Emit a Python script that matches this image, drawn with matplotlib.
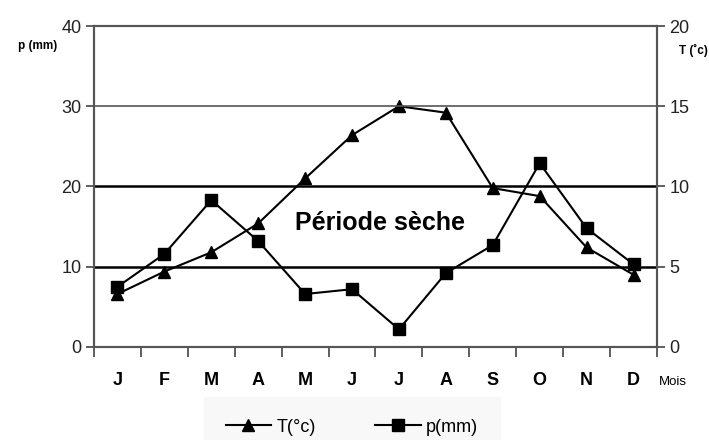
import matplotlib.pyplot as plt
from matplotlib.ticker import FixedLocator

plt.rcParams['font.family'] = ['Liberation Sans', 'DejaVu Sans']

mois = ['J', 'F', 'M', 'A', 'M', 'J', 'J', 'A', 'S', 'O', 'N', 'D']
precip = [7.5, 11.6, 18.3, 13.2, 6.6, 7.2, 2.2, 9.2, 12.7, 22.9, 14.8, 10.3]
temp = [3.3, 4.7, 5.9, 7.7, 10.5, 13.2, 15.0, 14.6, 9.9, 9.4, 6.2, 4.5]
p_ticks = [0, 10, 20, 30, 40]
t_ticks = [0, 5, 10, 15, 20]

x = list(range(1, 13))

fig = plt.figure(figsize=(7.09, 4.40), dpi=100)
ax = fig.add_axes([0.1326, 0.2114, 0.794, 0.7295])
ax2 = ax.twinx()

# lignes horizontales
ax.axhline(30, color='#555555', lw=1.2, zorder=1)
ax.axhline(20, color='black', lw=1.8, zorder=1)
ax.axhline(10, color='black', lw=1.8, zorder=1)

l1, = ax2.plot(x, temp, color='black', marker='^', markersize=8, lw=1.5, label='T(°c)')
l2, = ax.plot(x, precip, color='black', marker='s', markersize=8, lw=1.5, label='p(mm)')
ax.set_zorder(ax2.get_zorder() + 1)
ax.patch.set_visible(False)

ax.set_xlim(0.5, 12.5)
ax.set_ylim(0, 40)
ax2.set_ylim(0, 20)
tick_font = {'size': 13, 'color': '#222222'}
ax.set_yticks(p_ticks)
ax.set_yticklabels([str(v) for v in p_ticks], fontdict=tick_font)
ax2.set_yticks(t_ticks)
ax2.set_yticklabels([str(v) for v in t_ticks], fontdict=tick_font)

ax.xaxis.set_major_locator(FixedLocator([i + 0.5 for i in range(0, 13)]))
ax.xaxis.set_major_formatter(plt.NullFormatter())
ax.xaxis.set_minor_locator(FixedLocator(x))
ax.set_xticklabels(mois, minor=True, fontweight='bold', fontsize=13)
ax.tick_params(axis='x', which='major', direction='out', length=7, width=1.2, color='#444444')
ax.tick_params(axis='x', which='minor', length=0, pad=18)
ax.tick_params(axis='y', direction='out', length=6, width=1.2, color='#444444', pad=3)
ax2.tick_params(axis='y', direction='out', length=6, width=1.2, color='#444444', pad=3)

for a in (ax, ax2):
    for s in a.spines.values():
        s.set_color('#555555')
        s.set_linewidth(1.5)

fig.text(18 / 709, 1 - 46 / 440, 'p (mm)', fontsize=8.5, fontweight='bold', ha='left', va='center')
fig.text(708 / 709, 1 - 50 / 440, 'T (˚c)', fontsize=8.5, fontweight='bold', ha='right', va='center')
fig.text(673 / 709, 1 - 382 / 440, 'Mois', fontsize=9.5, ha='center', va='center')
ax.text(6.6, 15.4, 'Période sèche', fontsize=18, fontweight='bold', ha='center', va='center')

leg = fig.legend(handles=[l1, l2], loc='center', bbox_to_anchor=(352 / 709, 1 - 427 / 440),
                 ncol=2, frameon=True, handlelength=2.5, columnspacing=3.3, handletextpad=0.3,
                 prop={'size': 13})
leg.get_frame().set_facecolor('#f7f7f7')
leg.get_frame().set_edgecolor('#f7f7f7')
leg.get_frame().set_boxstyle('square', pad=0.8)

fig.savefig('out.png', dpi=100)
